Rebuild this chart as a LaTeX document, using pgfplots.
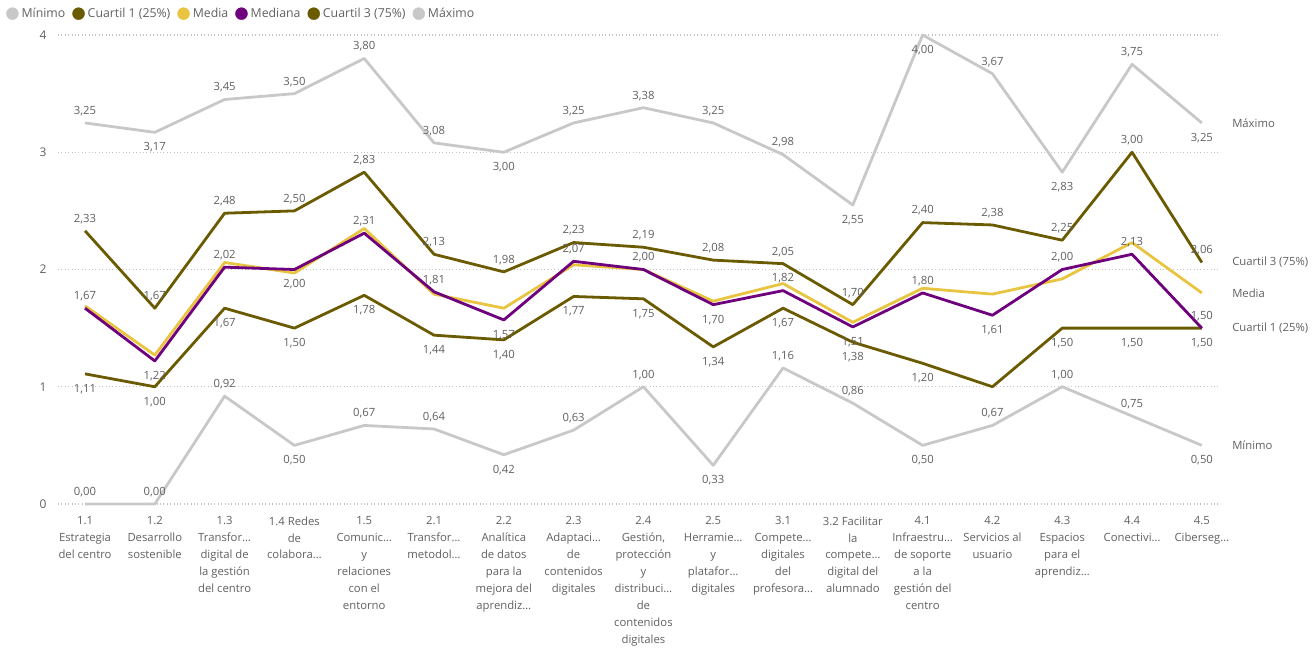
\documentclass[border=0pt]{standalone}
\usepackage{pgfplots}
\pgfplotsset{compat=1.18}
\usepackage{pgfplotstable}
\usepackage{fontspec}
\setmainfont{Open Sans}
\definecolor{cGrey}{RGB}{200,200,200}
\definecolor{cQ}{RGB}{106,90,0}
\definecolor{cMedia}{RGB}{232,196,64}
\definecolor{cMed}{RGB}{110,0,125}
\definecolor{cTxt}{RGB}{96,96,96}
\definecolor{cGrid}{RGB}{195,195,195}
\tikzset{rl/.style={pos=1, anchor=west, xshift=29pt, font=\fontsize{11.3}{13}\selectfont, text=cTxt, inner sep=0pt}}

\pgfplotstableread{
x y p
0 0.00 1
1 0.00 1
2 0.92 1
3 0.50 -1
4 0.67 1
5 0.64 1
6 0.42 -1
7 0.63 1
8 1.00 1
9 0.33 -1
10 1.16 1
11 0.86 1
12 0.50 -1
13 0.67 1
14 1.00 1
15 0.75 1
16 0.50 -1
}\tblMin
\pgfplotstableread{
x y p
0 1.11 -1
1 1.00 -1
2 1.67 -1
3 1.50 -1
4 1.78 -1
5 1.44 -1
6 1.40 -1
7 1.77 -1
8 1.75 -1
9 1.34 -1
10 1.67 -1
11 1.38 -1
12 1.20 -1
13 1.00 0
14 1.50 -1
15 1.50 -1
16 1.50 -1
}\tblQa
\pgfplotstableread{
x y
0 1.69
1 1.27
2 2.06
3 1.97
4 2.35
5 1.79
6 1.67
7 2.04
8 2.00
9 1.73
10 1.88
11 1.55
12 1.84
13 1.79
14 1.92
15 2.23
16 1.80
}\tblMedia
\pgfplotstableread{
x y p
0 1.67 1
1 1.22 -1
2 2.02 1
3 2.00 -1
4 2.31 1
5 1.81 1
6 1.57 -1
7 2.07 1
8 2.00 1
9 1.70 -1
10 1.82 1
11 1.51 -1
12 1.80 1
13 1.61 -1
14 2.00 1
15 2.13 1
16 1.50 1
}\tblMed
\pgfplotstableread{
x y p
0 2.33 1
1 1.67 1
2 2.48 1
3 2.50 1
4 2.83 1
5 2.13 1
6 1.98 1
7 2.23 1
8 2.19 1
9 2.08 1
10 2.05 1
11 1.70 1
12 2.40 1
13 2.38 1
14 2.25 1
15 3.00 1
16 2.06 1
}\tblQc
\pgfplotstableread{
x y p
0 3.25 1
1 3.17 -1
2 3.45 1
3 3.50 1
4 3.80 1
5 3.08 1
6 3.00 -1
7 3.25 1
8 3.38 1
9 3.25 1
10 2.98 1
11 2.55 -1
12 4.00 -1
13 3.67 1
14 2.83 -1
15 3.75 1
16 3.25 -1
}\tblMax

\begin{document}
\begin{tikzpicture}
\path[use as bounding box] (-58pt,-145pt) rectangle (1258pt,504pt);
\begin{axis}[
  scale only axis, width=1162pt, height=469pt,
  xmin=-0.387, xmax=16.26, ymin=0, ymax=4,
  clip=false,
  axis line style={draw=none}, tick style={draw=none},
  ytick={0,1,2,3,4},
  ymajorgrids,
  major grid style={cGrid, line width=1.2pt, dash pattern=on 0.8pt off 2.6pt},
  /pgf/number format/assume math mode=true,
  yticklabel style={font=\fontsize{12}{14}\selectfont, text=cTxt, xshift=-8pt},
  xtick={0,...,16},
  xticklabel style={font=\fontsize{11.3}{16.9}\selectfont, text=cTxt, align=center, anchor=north, yshift=-9pt},
  xticklabels={
    {1.1\\Estrategia\\del centro},
    {1.2\\Desarrollo\\sostenible},
    {1.3\\Transfor…\\digital de\\la gestión\\del centro},
    {1.4 Redes\\de\\colabora…},
    {1.5\\Comunic…\\y\\relaciones\\con el\\entorno},
    {2.1\\Transfor…\\metodol…},
    {2.2\\Analítica\\de datos\\para la\\mejora del\\aprendiz…},
    {2.3\\Adaptaci…\\de\\contenidos\\digitales},
    {2.4\\Gestión,\\protección\\y\\distribuci…\\de\\contenidos\\digitales},
    {2.5\\Herramie…\\y\\platafor…\\digitales},
    {3.1\\Compete…\\digitales\\del\\profesora…},
    {3.2 Facilitar\\la\\compete…\\digital del\\alumnado},
    {4.1\\Infraestru…\\de soporte\\a la\\gestión del\\centro},
    {4.2\\Servicios al\\usuario},
    {4.3\\Espacios\\para el\\aprendiz…},
    {4.4\\Conectivi…},
    {4.5\\Ciberseg…}
  },
  legend style={draw=none, fill=none, inner sep=0pt, font=\fontsize{12.3}{14}\selectfont, text=cTxt,
    at={(axis description cs:0,1)}, anchor=north west, xshift=-52pt, yshift=29pt,
    /tikz/every odd column/.append style={column sep=1pt},
    /tikz/every even column/.append style={column sep=5pt}},
  legend columns=-1,
  lbl/.style={
    visualization depends on={\thisrow{p} \as \lp},
    point meta=y,
    nodes near coords={\ifdim\lp pt=0pt\else\pgfmathprintnumber[fixed,fixed zerofill,precision=2,use comma]{\pgfplotspointmeta}\fi},
    every node near coord/.style={anchor=center, font=\fontsize{11.3}{13}\selectfont, text=cTxt, inner sep=0pt, yshift={ifthenelse(\lp>0,12,-15)}},
  },
  ser/.style={line width=2.8pt, line join=round, forget plot},
]
\addlegendimage{legend image code/.code={\fill[cGrey] (5.5pt,0pt) circle (6pt);}}
\addlegendentry{Mínimo}
\addlegendimage{legend image code/.code={\fill[cQ] (5.5pt,0pt) circle (6pt);}}
\addlegendentry{Cuartil 1 (25\%)}
\addlegendimage{legend image code/.code={\fill[cMedia] (5.5pt,0pt) circle (6pt);}}
\addlegendentry{Media}
\addlegendimage{legend image code/.code={\fill[cMed] (5.5pt,0pt) circle (6pt);}}
\addlegendentry{Mediana}
\addlegendimage{legend image code/.code={\fill[cQ] (5.5pt,0pt) circle (6pt);}}
\addlegendentry{Cuartil 3 (75\%)}
\addlegendimage{legend image code/.code={\fill[cGrey] (5.5pt,0pt) circle (6pt);}}
\addlegendentry{Máximo}

\addplot[ser, cGrey, lbl] table[x=x,y=y] {\tblMin} node[rl] {Mínimo};
\addplot[ser, cQ, lbl] table[x=x,y=y] {\tblQa} node[rl] {Cuartil 1 (25\%)};
\addplot[ser, cMedia] table[x=x,y=y] {\tblMedia} node[rl] {Media};
\addplot[ser, cMed, lbl] table[x=x,y=y] {\tblMed};
\addplot[ser, cQ, lbl] table[x=x,y=y] {\tblQc} node[rl] {Cuartil 3 (75\%)};
\addplot[ser, cGrey, lbl] table[x=x,y=y] {\tblMax} node[rl] {Máximo};
\end{axis}
\end{tikzpicture}
\end{document}
